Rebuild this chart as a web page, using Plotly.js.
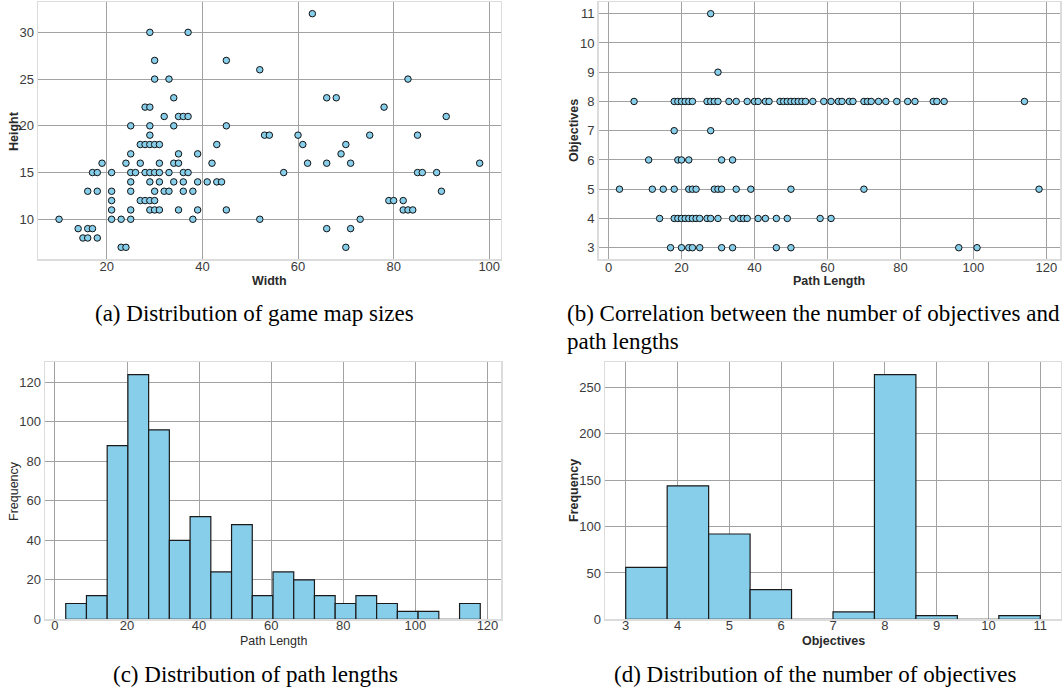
<!DOCTYPE html>
<html>
<head>
<meta charset="utf-8">
<script src="https://cdn.plot.ly/plotly-3.0.1.min.js"></script>
<style>
html,body{margin:0;padding:0;background:#fff;}
#chart{width:1062px;height:691px;}
</style>
</head>
<body>
<div id="chart"></div>
<script>
// (a) map sizes
const mapWidths = [63, 29,37, 30,45, 52, 30,33,83, 34,66,68, 28,29,78, 32,35,36,37,91, 25,29,34,45,
  29,53,54,60,75,85, 27,28,29,30,31,43,61,70, 25,35,39,69, 19,24,27,31,34,35,42,62,66,71,98,
  17,18,21,25,26,28,29,30,31,33,36,37,57,85,86,89, 25,29,31,34,36,39,41,43,44,
  16,18,21,25,30,32,33,36,38,90, 21,27,28,29,30,79,80,82, 21,25,29,30,31,35,39,45,82,83,84,
  10,21,23,25,38,52,73, 14,16,17,66,71, 15,16,18, 23,24,70];
const mapHeights = [32, 30,30, 27,27, 26, 25,25,25, 23,23,23, 22,22,22, 21,21,21,21,21, 20,20,20,20,
  19,19,19,19,19,19, 18,18,18,18,18,18,18,18, 17,17,17,17, 16,16,16,16,16,16,16,16,16,16,16,
  15,15,15,15,15,15,15,15,15,15,15,15,15,15,15,15, 14,14,14,14,14,14,14,14,14,
  13,13,13,13,13,13,13,13,13,13, 12,12,12,12,12,12,12,12, 11,11,11,11,11,11,11,11,11,11,11,
  10,10,10,10,10,10,10, 9,9,9,9,9, 8,8,8, 7,7,7];

// (b) path length vs objectives
const scatterPathLength = [28, 30,
  7,18,19,20,21,22,23,27,28,29,30,33,35,38,40,41,43,44,47,48,49,50,51,52,53,54,56,59,61,63,64,66,67,70,71,72,74,76,79,82,84,89,90,92,114,
  18,28,
  11,19,20,22,31,34,
  3,12,15,18,22,23,24,29,30,31,35,39,50,70,118,
  14,18,19,20,21,22,23,24,25,27,28,30,34,36,37,38,41,43,46,49,58,61,
  17,20,22,23,25,31,34,46,50,96,101];
const scatterObjectives = [11, 9,
  8,8,8,8,8,8,8,8,8,8,8,8,8,8,8,8,8,8,8,8,8,8,8,8,8,8,8,8,8,8,8,8,8,8,8,8,8,8,8,8,8,8,8,8,8,
  7,7,
  6,6,6,6,6,6,
  5,5,5,5,5,5,5,5,5,5,5,5,5,5,5,
  4,4,4,4,4,4,4,4,4,4,4,4,4,4,4,4,4,4,4,4,4,4,
  3,3,3,3,3,3,3,3,3,3,3];

// (c) path length histogram
const pathBinEdges = [3, 8.75, 14.5, 20.25, 26, 31.75, 37.5, 43.25, 49, 54.75, 60.5, 66.25, 72, 77.75, 83.5, 89.25, 95, 100.75, 106.5, 112.25, 118];
const pathCounts = [8, 12, 88, 124, 96, 40, 52, 24, 48, 12, 24, 20, 12, 8, 12, 8, 4, 4, 0, 8];

// (d) objectives histogram
const objBinEdges = [3, 3.8, 4.6, 5.4, 6.2, 7.0, 7.8, 8.6, 9.4, 10.2, 11];
const objCounts = [56, 144, 92, 32, 0, 8, 264, 4, 0, 4];

// tick labels
const ticksA_x = [20, 40, 60, 80, 100];
const ticksA_y = [10, 15, 20, 25, 30];
const ticksB_x = [0, 20, 40, 60, 80, 100, 120];
const ticksB_y = [3, 4, 5, 6, 7, 8, 9, 10, 11];
const ticksC_y = [0, 20, 40, 60, 80, 100, 120];
const ticksD_x = [3, 4, 5, 6, 7, 8, 9, 10, 11];
const ticksD_y = [0, 50, 100, 150, 200, 250];

// texts
const axisTitles = {
  aX: "Width", aY: "Height",
  bX: "Path Length", bY: "Objectives",
  cX: "Path Length", cY: "Frequency",
  dX: "Objectives", dY: "Frequency"
};
const captions = [
  "(a) Distribution of game map sizes",
  "(b) Correlation between the number of objectives and",
  "path lengths",
  "(c) Distribution of path lengths",
  "(d) Distribution of the number of objectives"
];

function centers(edges){ const c=[]; for(let i=0;i<edges.length-1;i++) c.push((edges[i]+edges[i+1])/2); return c; }
function widths(edges){ const w=[]; for(let i=0;i<edges.length-1;i++) w.push(edges[i+1]-edges[i]); return w; }

const SKY = '#87CEEB';
const FONT = 'Liberation Sans, Arial, sans-serif';
const SERIF = 'Liberation Serif, Times New Roman, serif';
const W = 1062, H = 691;
const px = v => v / W;
const py = v => 1 - v / H;

function axis(domain, range, tickvals, anchor, standoff){
  return {
    domain: domain, range: range, tickvals: tickvals, ticktext: tickvals.map(String),
    showgrid: true, gridcolor: '#a2a2a2', gridwidth: 1,
    zeroline: false, showline: true, mirror: true, linecolor: '#dcdcdc', linewidth: 1.5,
    ticks: '', tickfont: {family: FONT, size: 13, color: '#3a3a3a'},
    ticklabelstandoff: standoff,
    anchor: anchor, fixedrange: true, automargin: false
  };
}

function axTitle(text, x, y, bold, rotate){
  return {text: bold ? '<b>' + text + '</b>' : text, xref: 'paper', yref: 'paper', x: px(x), y: py(y),
    xanchor: 'center', yanchor: 'middle', showarrow: false, textangle: rotate ? -90 : 0,
    font: {family: FONT, size: 12.5, color: '#2a2a2a'}};
}
function caption(text, x, y, anchor){
  return {text: text, xref: 'paper', yref: 'paper', x: px(x), y: py(y), xanchor: anchor, yanchor: 'middle',
    showarrow: false, font: {family: SERIF, size: 23, color: '#000'}};
}

const marker = {color: SKY, size: 6.5, line: {color: '#111', width: 1}};
const barMarker = {color: SKY, line: {color: '#1a1a1a', width: 1.2}};

const data = [
  {type: 'scatter', mode: 'markers', x: mapWidths, y: mapHeights, xaxis: 'x', yaxis: 'y', marker: marker, hoverinfo: 'none'},
  {type: 'scatter', mode: 'markers', x: scatterPathLength, y: scatterObjectives, xaxis: 'x2', yaxis: 'y2', marker: marker, hoverinfo: 'none'},
  {type: 'bar', x: centers(pathBinEdges), y: pathCounts, width: widths(pathBinEdges), xaxis: 'x3', yaxis: 'y3', marker: barMarker, hoverinfo: 'none'},
  {type: 'bar', x: centers(objBinEdges), y: objCounts, width: widths(objBinEdges), xaxis: 'x4', yaxis: 'y4', marker: barMarker, hoverinfo: 'none'}
];

const layout = {
  width: W, height: H,
  margin: {l: 0, r: 0, t: 0, b: 0},
  paper_bgcolor: '#fff', plot_bgcolor: '#fff',
  showlegend: false,
  bargap: 0,
  xaxis:  axis([px(38), px(500.7)], [5.6, 102.4], ticksA_x, 'y', -5),
  yaxis:  axis([py(259), py(2)], [5.75, 33.25], ticksA_y, 'x', 0),
  xaxis2: axis([px(598.5), px(1060)], [-2.75, 123.75], ticksB_x, 'y2', -5),
  yaxis2: axis([py(259.4), py(2)], [2.6, 11.4], ticksB_y, 'x2', 0),
  xaxis3: axis([px(45), px(501)], [-2.75, 123.75], ticksB_x, 'y3', -6),
  yaxis3: axis([py(619.3), py(362.3)], [0, 130.2], ticksC_y, 'x3', 0),
  xaxis4: axis([px(605), px(1061)], [2.6, 11.4], ticksD_x, 'y4', -6),
  yaxis4: axis([py(619.3), py(362.3)], [0, 277.2], ticksD_y, 'x4', 0),
  annotations: [
    axTitle(axisTitles.aX, 269.4, 281, true, false),
    axTitle(axisTitles.aY, 14, 131, true, true),
    axTitle(axisTitles.bX, 829, 280.5, true, false),
    axTitle(axisTitles.bY, 574, 131, true, true),
    axTitle(axisTitles.cX, 273, 641, false, false),
    axTitle(axisTitles.cY, 14, 491, false, true),
    axTitle(axisTitles.dX, 833, 641, true, false),
    axTitle(axisTitles.dY, 574, 491, true, true),
    caption(captions[0], 254, 314, 'center'),
    caption(captions[1], 565, 314, 'left'),
    caption(captions[2], 565, 341, 'left'),
    caption(captions[3], 255, 674, 'center'),
    caption(captions[4], 815, 674, 'center')
  ]
};

Plotly.newPlot('chart', data, layout, {displayModeBar: false, staticPlot: true});
</script>
</body>
</html>
